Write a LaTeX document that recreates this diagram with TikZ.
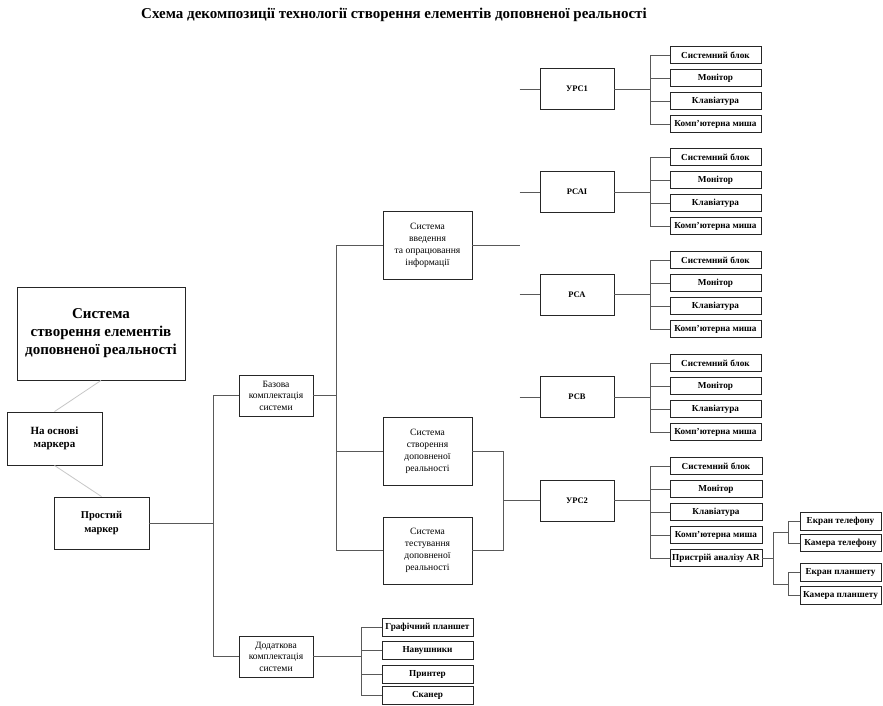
\documentclass[tikz,border=0pt]{standalone}
\usepackage{fontspec}
\setmainfont{Liberation Serif}
\begin{document}
\begin{tikzpicture}[x=1pt,y=-1pt,
  bx/.style={draw=black!85, line width=0.9pt, inner sep=0pt, align=center, fill=white},
  leaf/.style={bx, minimum width=91pt, minimum height=17.5pt, font=\bfseries\fontsize{9.2}{10}\selectfont},
  midb/.style={bx, minimum width=74pt, minimum height=41pt, font=\bfseries\fontsize{8.5}{10}\selectfont},
  sysb/.style={bx, minimum width=89pt, minimum height=68pt, font=\fontsize{9.6}{12}\selectfont},
  komp/.style={bx, minimum width=74pt, minimum height=41pt, font=\fontsize{9.6}{11.5}\selectfont},
  ln/.style={draw=black!65, line width=0.8pt},
  faint/.style={draw=black!22, line width=0.8pt}]
\useasboundingbox (0,0) rectangle (883,705);
\fill[white] (0,0) rectangle (883,705);

% title
\node[font=\bfseries\fontsize{15}{17}\selectfont] (title) at (394,15) {Схема декомпозиції технології створення елементів доповненої реальності};

% left column
\node[bx, minimum width=168pt, minimum height=93pt, font=\bfseries\fontsize{15}{18}\selectfont] (main) at (101,333.5) {Система\\створення елементів\\доповненої реальності};
\node[bx, minimum width=95pt, minimum height=53pt, font=\bfseries\fontsize{11}{13}\selectfont] (osn) at (54.5,438.5) {На основі\\маркера};
\node[bx, minimum width=95pt, minimum height=52pt, font=\bfseries\fontsize{10.5}{14}\selectfont] (prost) at (101.5,523) {Простий\\маркер};
\draw[faint] (main.south) -- (osn.north);
\draw[faint] (osn.south) -- (prost.north);

% second level
\node[komp] (baz) at (276,395.5) {Базова\\комплектація\\системи};
\node[komp] (dod) at (276,656.5) {Додаткова\\комплектація\\системи};
\coordinate (busA) at (213,0);
\draw[ln] (prost.east) -- (prost.east -| busA);
\draw[ln] (baz.west) -- (baz.west -| busA) -- (dod.west -| busA) -- (dod.west);

% systems
\node[sysb] (vved) at (427.5,245) {Система\\введення\\та опрацювання\\інформації};
\node[sysb] (stv) at (427.5,451) {Система\\створення\\доповненої\\реальності};
\node[sysb, minimum height=67pt] (test) at (427.5,550.5) {Система\\тестування\\доповненої\\реальності};
\coordinate (busB) at (336,0);
\draw[ln] (baz.east) -- (baz.east -| busB);
\draw[ln] (vved.west) -- (vved.west -| busB) -- (test.west -| busB) -- (test.west);
\draw[ln] (stv.west) -- (stv.west -| busB);
\coordinate (vvedout) at (520,245);
\draw[ln] (vved.east) -- (vvedout);

% mid boxes
\node[midb] (urs1) at (577,89) {УРС1};
\node[midb] (rsai) at (577,192) {РСАІ};
\node[midb] (rsa) at (577,294.5) {РСА};
\node[midb] (rsb) at (577,397) {РСВ};
\node[midb] (urs2) at (577,500.5) {УРС2};
\foreach \g in {urs1,rsai,rsa,rsb}{
  \coordinate (\g-in) at ([xshift=-20pt]\g.west);
  \draw[ln] (\g-in) -- (\g.west);
}
\coordinate (busC) at (503,0);
\draw[ln] (stv.east) -- (stv.east -| busC) -- (test.east -| busC) -- (test.east);
\draw[ln] (urs2.west) -- (urs2.west -| busC);

% leaves of the four groups
\foreach \g/\ya/\yb/\yc/\yd in {urs1/55/78/101/124, rsai/157/180/203/226, rsa/260/283/306/329, rsb/363/386/409/432}{
  \node[leaf] (\g-1) at (715.5,\ya) {Системний блок};
  \node[leaf] (\g-2) at (715.5,\yb) {Монітор};
  \node[leaf] (\g-3) at (715.5,\yc) {Клавіатура};
  \node[leaf] (\g-4) at (715.5,\yd) {Комп’ютерна миша};
  \draw[ln] (\g.east) -- ++(36,0) coordinate (\g-j);
  \draw[ln] (\g-j |- \g-1.west) -- (\g-j |- \g-4.west);
  \foreach \i in {1,2,3,4}{\draw[ln] (\g-j |- \g-\i.west) -- (\g-\i.west);}
}

% УРС2 leaves
\node[leaf, minimum width=92pt] (urs2-1) at (716,466) {Системний блок};
\node[leaf, minimum width=92pt] (urs2-2) at (716,489) {Монітор};
\node[leaf, minimum width=92pt] (urs2-3) at (716,512) {Клавіатура};
\node[leaf, minimum width=92pt] (urs2-4) at (716,535) {Комп’ютерна миша};
\node[leaf, minimum width=92pt] (urs2-5) at (716,558) {Пристрій аналізу AR};
\draw[ln] (urs2.east) -- ++(36,0) coordinate (urs2-j);
\draw[ln] (urs2-j |- urs2-1.west) -- (urs2-j |- urs2-5.west);
\foreach \i in {1,...,5}{\draw[ln] (urs2-j |- urs2-\i.west) -- (urs2-\i.west);}

% AR devices
\node[leaf, minimum width=81pt] (ekt) at (840.5,521.5) {Екран телефону};
\node[leaf, minimum width=81pt] (kt) at (840.5,543) {Камера телефону};
\node[leaf, minimum width=81pt] (ekp) at (840.5,572.5) {Екран планшету};
\node[leaf, minimum width=81pt] (kp) at (840.5,595.5) {Камера планшету};
\coordinate (busE) at (773,0);
\coordinate (ph) at (773,532);
\coordinate (tb) at (773,584);
\draw[ln] (urs2-5.east) -- (urs2-5.east -| busE);
\draw[ln] (ph) -- (tb);
\draw[ln] (ph) -- ++(15,0) coordinate (phj);
\draw[ln] (tb) -- ++(15,0) coordinate (tbj);
\draw[ln] (phj |- ekt.west) -- (phj |- kt.west);
\draw[ln] (tbj |- ekp.west) -- (tbj |- kp.west);
\draw[ln] (phj |- ekt.west) -- (ekt.west);
\draw[ln] (phj |- kt.west) -- (kt.west);
\draw[ln] (tbj |- ekp.west) -- (ekp.west);
\draw[ln] (tbj |- kp.west) -- (kp.west);

% additional equipment
\node[leaf, minimum height=18pt] (g1) at (427.5,627) {Графічний планшет};
\node[leaf, minimum height=18pt] (g2) at (427.5,650.5) {Навушники};
\node[leaf, minimum height=18pt] (g3) at (427.5,674) {Принтер};
\node[leaf, minimum height=18pt] (g4) at (427.5,695) {Сканер};
\coordinate (busD) at (361,0);
\draw[ln] (dod.east) -- (dod.east -| busD);
\draw[ln] (busD |- g1.west) -- (busD |- g4.west);
\foreach \i in {1,...,4}{\draw[ln] (busD |- g\i.west) -- (g\i.west);}
\end{tikzpicture}
\end{document}
